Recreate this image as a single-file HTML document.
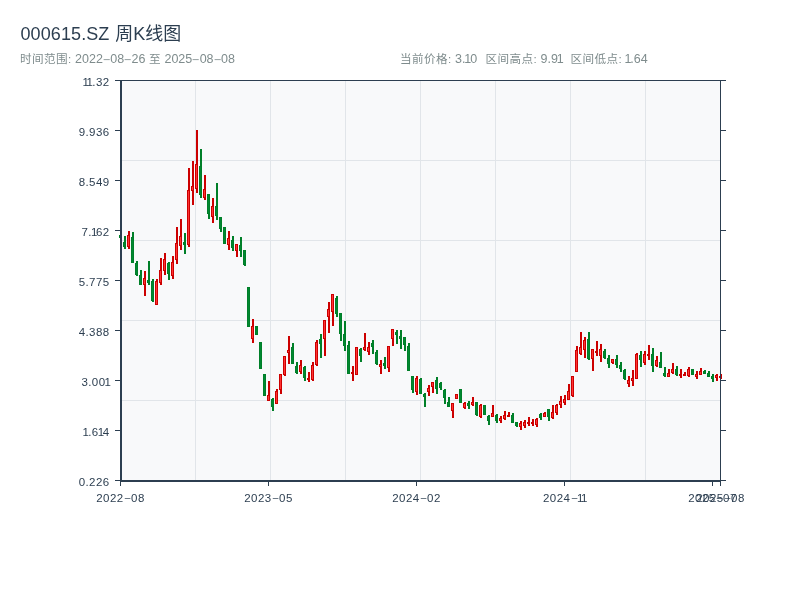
<!DOCTYPE html>
<html lang="zh-CN">
<head>
<meta charset="utf-8">
<title>000615.SZ 周K线图</title>
<style>
html,body{margin:0;padding:0;background:#fff;}
body{width:800px;height:600px;overflow:hidden;position:relative;font-family:"Liberation Sans","Noto Sans CJK SC",sans-serif;}
.t{position:absolute;white-space:nowrap;margin:0;}
.title{left:20.5px;top:22px;font-size:18px;line-height:24px;color:#2c3e50;letter-spacing:0.1px;font-weight:normal;}
.title .c{letter-spacing:0;margin-left:0.7px;font-weight:400;}
.sub{top:51px;font-size:12.5px;line-height:16px;color:#7f8c8d;letter-spacing:0;}
.sub .n{letter-spacing:0;}
.sub .c{letter-spacing:0.4px;font-size:11.6px;font-weight:400;}
.d{display:inline-block;width:7.4px;text-align:center;transform:scaleX(2.0);letter-spacing:0;position:relative;top:0;opacity:.8;}
.yl{right:690.5px;font-size:11.5px;line-height:14px;color:#2c3e50;letter-spacing:0.4px;}
.xl{top:490.5px;width:80px;text-align:center;font-size:11.5px;line-height:14px;color:#2c3e50;letter-spacing:0.48px;}
.xl .d{top:-0.8px;}
.o{margin-left:-0.9px;letter-spacing:-1.45px;}
.o.p{letter-spacing:-0.7px;}
.sub .o{margin-left:-1.2px;letter-spacing:-1.1px;}
svg{position:absolute;left:0;top:0;}
</style>
</head>
<body>
<h1 class="t title">000615.SZ<span class="c"> 周K线图</span></h1>
<div class="t sub" style="left:20px"><span class="c">时间范围:</span> 2022<span class="d">-</span>08<span class="d">-</span>26 <span class="c">至</span> 2025<span class="d">-</span>08<span class="d">-</span>08</div>
<div class="t sub" style="left:400px"><span class="c">当前价格:</span> <span class="n">3.<span class="o">1</span>0</span></div>
<div class="t sub" style="left:485.5px"><span class="c">区间高点:</span> <span class="n">9.9<span class="o">1</span></span></div>
<div class="t sub" style="left:570.5px"><span class="c">区间低点:</span> <span class="n"><span class="o">1</span>.64</span></div>
<svg width="800" height="600" viewBox="0 0 800 600">
<rect x="121" y="81" width="599" height="400" fill="#f8f9fa"/>
<g stroke="#e1e5e9" stroke-width="1" shape-rendering="crispEdges">
<line x1="195.5" y1="81" x2="195.5" y2="480"/>
<line x1="270.5" y1="81" x2="270.5" y2="480"/>
<line x1="345.5" y1="81" x2="345.5" y2="480"/>
<line x1="420.5" y1="81" x2="420.5" y2="480"/>
<line x1="495.5" y1="81" x2="495.5" y2="480"/>
<line x1="570.5" y1="81" x2="570.5" y2="480"/>
<line x1="645.5" y1="81" x2="645.5" y2="480"/>
<line x1="122" y1="160.5" x2="720" y2="160.5"/>
<line x1="122" y1="240.5" x2="720" y2="240.5"/>
<line x1="122" y1="320.5" x2="720" y2="320.5"/>
<line x1="122" y1="400.5" x2="720" y2="400.5"/>
</g>
<g shape-rendering="crispEdges">
<rect x="120" y="233" width="2" height="7" fill="#007f28"/>
<rect x="119" y="235" width="3" height="3" fill="#007f28"/>
<rect x="120" y="236" width="1" height="1" fill="#008832"/>
<rect x="124" y="236" width="2" height="13" fill="#007f28"/>
<rect x="123" y="242" width="3" height="5" fill="#007f28"/>
<rect x="124" y="243" width="1" height="3" fill="#008832"/>
<rect x="128" y="231" width="2" height="18" fill="#cc0000"/>
<rect x="127" y="235" width="3" height="12" fill="#cc0000"/>
<rect x="128" y="236" width="1" height="10" fill="#ff3333"/>
<rect x="132" y="232" width="2" height="31" fill="#007f28"/>
<rect x="131" y="237" width="3" height="26" fill="#007f28"/>
<rect x="132" y="238" width="1" height="24" fill="#008832"/>
<rect x="136" y="261" width="2" height="15" fill="#007f28"/>
<rect x="135" y="263" width="3" height="12" fill="#007f28"/>
<rect x="136" y="264" width="1" height="10" fill="#008832"/>
<rect x="140" y="270" width="2" height="15" fill="#007f28"/>
<rect x="139" y="275" width="3" height="10" fill="#007f28"/>
<rect x="140" y="276" width="1" height="8" fill="#008832"/>
<rect x="144" y="271" width="2" height="25" fill="#cc0000"/>
<rect x="143" y="278" width="3" height="7" fill="#cc0000"/>
<rect x="144" y="279" width="1" height="5" fill="#ff3333"/>
<rect x="148" y="261" width="2" height="24" fill="#007f28"/>
<rect x="147" y="280" width="3" height="3" fill="#007f28"/>
<rect x="148" y="281" width="1" height="1" fill="#008832"/>
<rect x="152" y="279" width="2" height="23" fill="#007f28"/>
<rect x="151" y="281" width="3" height="20" fill="#007f28"/>
<rect x="152" y="282" width="1" height="18" fill="#008832"/>
<rect x="156" y="279" width="2" height="26" fill="#cc0000"/>
<rect x="155" y="281" width="3" height="24" fill="#cc0000"/>
<rect x="156" y="282" width="1" height="22" fill="#ff3333"/>
<rect x="160" y="258" width="2" height="27" fill="#cc0000"/>
<rect x="159" y="270" width="3" height="13" fill="#cc0000"/>
<rect x="160" y="271" width="1" height="11" fill="#ff3333"/>
<rect x="164" y="253" width="2" height="22" fill="#cc0000"/>
<rect x="163" y="259" width="3" height="12" fill="#cc0000"/>
<rect x="164" y="260" width="1" height="10" fill="#ff3333"/>
<rect x="168" y="262" width="2" height="18" fill="#007f28"/>
<rect x="167" y="263" width="3" height="11" fill="#007f28"/>
<rect x="168" y="264" width="1" height="9" fill="#008832"/>
<rect x="172" y="256" width="2" height="23" fill="#cc0000"/>
<rect x="171" y="262" width="3" height="14" fill="#cc0000"/>
<rect x="172" y="263" width="1" height="12" fill="#ff3333"/>
<rect x="176" y="227" width="2" height="37" fill="#cc0000"/>
<rect x="175" y="243" width="3" height="17" fill="#cc0000"/>
<rect x="176" y="244" width="1" height="15" fill="#ff3333"/>
<rect x="180" y="219" width="2" height="31" fill="#cc0000"/>
<rect x="179" y="236" width="3" height="10" fill="#cc0000"/>
<rect x="180" y="237" width="1" height="8" fill="#ff3333"/>
<rect x="184" y="233" width="2" height="21" fill="#007f28"/>
<rect x="183" y="242" width="3" height="3" fill="#007f28"/>
<rect x="184" y="243" width="1" height="1" fill="#008832"/>
<rect x="188" y="168" width="2" height="79" fill="#cc0000"/>
<rect x="187" y="190" width="3" height="55" fill="#cc0000"/>
<rect x="188" y="191" width="1" height="53" fill="#ff3333"/>
<rect x="192" y="161" width="2" height="44" fill="#cc0000"/>
<rect x="191" y="186" width="3" height="5" fill="#cc0000"/>
<rect x="192" y="187" width="1" height="3" fill="#ff3333"/>
<rect x="196" y="130" width="2" height="63" fill="#cc0000"/>
<rect x="195" y="164" width="3" height="25" fill="#cc0000"/>
<rect x="196" y="165" width="1" height="23" fill="#ff3333"/>
<rect x="200" y="149" width="2" height="49" fill="#007f28"/>
<rect x="199" y="166" width="3" height="29" fill="#007f28"/>
<rect x="200" y="167" width="1" height="27" fill="#008832"/>
<rect x="204" y="175" width="2" height="25" fill="#cc0000"/>
<rect x="203" y="189" width="3" height="9" fill="#cc0000"/>
<rect x="204" y="190" width="1" height="7" fill="#ff3333"/>
<rect x="208" y="194" width="2" height="25" fill="#007f28"/>
<rect x="207" y="194" width="3" height="20" fill="#007f28"/>
<rect x="208" y="195" width="1" height="18" fill="#008832"/>
<rect x="212" y="198" width="2" height="25" fill="#cc0000"/>
<rect x="211" y="206" width="3" height="11" fill="#cc0000"/>
<rect x="212" y="207" width="1" height="9" fill="#ff3333"/>
<rect x="216" y="183" width="2" height="37" fill="#007f28"/>
<rect x="215" y="206" width="3" height="10" fill="#007f28"/>
<rect x="216" y="207" width="1" height="8" fill="#008832"/>
<rect x="220" y="217" width="2" height="15" fill="#007f28"/>
<rect x="219" y="217" width="3" height="12" fill="#007f28"/>
<rect x="220" y="218" width="1" height="10" fill="#008832"/>
<rect x="224" y="227" width="2" height="17" fill="#007f28"/>
<rect x="223" y="227" width="3" height="17" fill="#007f28"/>
<rect x="224" y="228" width="1" height="15" fill="#008832"/>
<rect x="228" y="231" width="2" height="19" fill="#cc0000"/>
<rect x="227" y="238" width="3" height="7" fill="#cc0000"/>
<rect x="228" y="239" width="1" height="5" fill="#ff3333"/>
<rect x="232" y="236" width="2" height="15" fill="#007f28"/>
<rect x="231" y="240" width="3" height="8" fill="#007f28"/>
<rect x="232" y="241" width="1" height="6" fill="#008832"/>
<rect x="236" y="244" width="2" height="13" fill="#cc0000"/>
<rect x="235" y="244" width="3" height="7" fill="#cc0000"/>
<rect x="236" y="245" width="1" height="5" fill="#ff3333"/>
<rect x="240" y="237" width="2" height="20" fill="#007f28"/>
<rect x="239" y="245" width="3" height="6" fill="#007f28"/>
<rect x="240" y="246" width="1" height="4" fill="#008832"/>
<rect x="244" y="250" width="2" height="16" fill="#007f28"/>
<rect x="243" y="250" width="3" height="15" fill="#007f28"/>
<rect x="244" y="251" width="1" height="13" fill="#008832"/>
<rect x="248" y="287" width="2" height="40" fill="#007f28"/>
<rect x="247" y="287" width="3" height="40" fill="#007f28"/>
<rect x="248" y="288" width="1" height="38" fill="#008832"/>
<rect x="252" y="319" width="2" height="24" fill="#cc0000"/>
<rect x="251" y="326" width="3" height="13" fill="#cc0000"/>
<rect x="252" y="327" width="1" height="11" fill="#ff3333"/>
<rect x="256" y="326" width="2" height="9" fill="#007f28"/>
<rect x="255" y="326" width="3" height="9" fill="#007f28"/>
<rect x="256" y="327" width="1" height="7" fill="#008832"/>
<rect x="260" y="342" width="2" height="27" fill="#007f28"/>
<rect x="259" y="342" width="3" height="27" fill="#007f28"/>
<rect x="260" y="343" width="1" height="25" fill="#008832"/>
<rect x="264" y="374" width="2" height="22" fill="#007f28"/>
<rect x="263" y="374" width="3" height="22" fill="#007f28"/>
<rect x="264" y="375" width="1" height="20" fill="#008832"/>
<rect x="268" y="381" width="2" height="20" fill="#cc0000"/>
<rect x="267" y="395" width="3" height="6" fill="#cc0000"/>
<rect x="268" y="396" width="1" height="4" fill="#ff3333"/>
<rect x="272" y="398" width="2" height="13" fill="#007f28"/>
<rect x="271" y="399" width="3" height="8" fill="#007f28"/>
<rect x="272" y="400" width="1" height="6" fill="#008832"/>
<rect x="276" y="389" width="2" height="15" fill="#cc0000"/>
<rect x="275" y="391" width="3" height="13" fill="#cc0000"/>
<rect x="276" y="392" width="1" height="11" fill="#ff3333"/>
<rect x="280" y="374" width="2" height="20" fill="#cc0000"/>
<rect x="279" y="374" width="3" height="16" fill="#cc0000"/>
<rect x="280" y="375" width="1" height="14" fill="#ff3333"/>
<rect x="284" y="356" width="2" height="20" fill="#cc0000"/>
<rect x="283" y="356" width="3" height="19" fill="#cc0000"/>
<rect x="284" y="357" width="1" height="17" fill="#ff3333"/>
<rect x="288" y="336" width="2" height="28" fill="#cc0000"/>
<rect x="287" y="350" width="3" height="3" fill="#cc0000"/>
<rect x="288" y="351" width="1" height="1" fill="#ff3333"/>
<rect x="292" y="343" width="2" height="21" fill="#007f28"/>
<rect x="291" y="347" width="3" height="17" fill="#007f28"/>
<rect x="292" y="348" width="1" height="15" fill="#008832"/>
<rect x="296" y="362" width="2" height="12" fill="#007f28"/>
<rect x="295" y="366" width="3" height="7" fill="#007f28"/>
<rect x="296" y="367" width="1" height="5" fill="#008832"/>
<rect x="300" y="360" width="2" height="14" fill="#cc0000"/>
<rect x="299" y="365" width="3" height="7" fill="#cc0000"/>
<rect x="300" y="366" width="1" height="5" fill="#ff3333"/>
<rect x="304" y="366" width="2" height="15" fill="#007f28"/>
<rect x="303" y="367" width="3" height="11" fill="#007f28"/>
<rect x="304" y="368" width="1" height="9" fill="#008832"/>
<rect x="308" y="372" width="2" height="10" fill="#cc0000"/>
<rect x="307" y="378" width="3" height="2" fill="#cc0000"/>
<rect x="312" y="362" width="2" height="19" fill="#cc0000"/>
<rect x="311" y="365" width="3" height="15" fill="#cc0000"/>
<rect x="312" y="366" width="1" height="13" fill="#ff3333"/>
<rect x="316" y="340" width="2" height="26" fill="#cc0000"/>
<rect x="315" y="342" width="3" height="23" fill="#cc0000"/>
<rect x="316" y="343" width="1" height="21" fill="#ff3333"/>
<rect x="320" y="334" width="2" height="24" fill="#007f28"/>
<rect x="319" y="339" width="3" height="5" fill="#007f28"/>
<rect x="320" y="340" width="1" height="3" fill="#008832"/>
<rect x="324" y="320" width="2" height="36" fill="#cc0000"/>
<rect x="323" y="320" width="3" height="19" fill="#cc0000"/>
<rect x="324" y="321" width="1" height="17" fill="#ff3333"/>
<rect x="328" y="302" width="2" height="31" fill="#cc0000"/>
<rect x="327" y="309" width="3" height="8" fill="#cc0000"/>
<rect x="328" y="310" width="1" height="6" fill="#ff3333"/>
<rect x="332" y="294" width="2" height="32" fill="#cc0000"/>
<rect x="331" y="294" width="3" height="18" fill="#cc0000"/>
<rect x="332" y="295" width="1" height="16" fill="#ff3333"/>
<rect x="336" y="296" width="2" height="21" fill="#007f28"/>
<rect x="335" y="298" width="3" height="16" fill="#007f28"/>
<rect x="336" y="299" width="1" height="14" fill="#008832"/>
<rect x="340" y="313" width="2" height="28" fill="#007f28"/>
<rect x="339" y="313" width="3" height="21" fill="#007f28"/>
<rect x="340" y="314" width="1" height="19" fill="#008832"/>
<rect x="344" y="321" width="2" height="30" fill="#007f28"/>
<rect x="343" y="334" width="3" height="12" fill="#007f28"/>
<rect x="344" y="335" width="1" height="10" fill="#008832"/>
<rect x="348" y="341" width="2" height="33" fill="#007f28"/>
<rect x="347" y="345" width="3" height="29" fill="#007f28"/>
<rect x="348" y="346" width="1" height="27" fill="#008832"/>
<rect x="352" y="366" width="2" height="15" fill="#cc0000"/>
<rect x="351" y="372" width="3" height="2" fill="#cc0000"/>
<rect x="356" y="347" width="2" height="28" fill="#cc0000"/>
<rect x="355" y="347" width="3" height="28" fill="#cc0000"/>
<rect x="356" y="348" width="1" height="26" fill="#ff3333"/>
<rect x="360" y="348" width="2" height="14" fill="#007f28"/>
<rect x="359" y="349" width="3" height="7" fill="#007f28"/>
<rect x="360" y="350" width="1" height="5" fill="#008832"/>
<rect x="364" y="333" width="2" height="18" fill="#cc0000"/>
<rect x="363" y="347" width="3" height="3" fill="#cc0000"/>
<rect x="364" y="348" width="1" height="1" fill="#ff3333"/>
<rect x="368" y="342" width="2" height="13" fill="#cc0000"/>
<rect x="367" y="347" width="3" height="5" fill="#cc0000"/>
<rect x="368" y="348" width="1" height="3" fill="#ff3333"/>
<rect x="372" y="340" width="2" height="14" fill="#007f28"/>
<rect x="371" y="343" width="3" height="4" fill="#007f28"/>
<rect x="372" y="344" width="1" height="2" fill="#008832"/>
<rect x="376" y="350" width="2" height="15" fill="#007f28"/>
<rect x="375" y="352" width="3" height="12" fill="#007f28"/>
<rect x="376" y="353" width="1" height="10" fill="#008832"/>
<rect x="380" y="360" width="2" height="14" fill="#cc0000"/>
<rect x="379" y="364" width="3" height="3" fill="#cc0000"/>
<rect x="380" y="365" width="1" height="1" fill="#ff3333"/>
<rect x="384" y="357" width="2" height="12" fill="#007f28"/>
<rect x="383" y="363" width="3" height="3" fill="#007f28"/>
<rect x="384" y="364" width="1" height="1" fill="#008832"/>
<rect x="388" y="346" width="2" height="26" fill="#cc0000"/>
<rect x="387" y="346" width="3" height="22" fill="#cc0000"/>
<rect x="388" y="347" width="1" height="20" fill="#ff3333"/>
<rect x="392" y="329" width="2" height="17" fill="#cc0000"/>
<rect x="391" y="329" width="3" height="10" fill="#cc0000"/>
<rect x="392" y="330" width="1" height="8" fill="#ff3333"/>
<rect x="396" y="330" width="2" height="14" fill="#007f28"/>
<rect x="395" y="332" width="3" height="3" fill="#007f28"/>
<rect x="396" y="333" width="1" height="1" fill="#008832"/>
<rect x="400" y="330" width="2" height="19" fill="#007f28"/>
<rect x="399" y="336" width="3" height="3" fill="#007f28"/>
<rect x="400" y="337" width="1" height="1" fill="#008832"/>
<rect x="404" y="337" width="2" height="14" fill="#007f28"/>
<rect x="403" y="337" width="3" height="8" fill="#007f28"/>
<rect x="404" y="338" width="1" height="6" fill="#008832"/>
<rect x="408" y="343" width="2" height="28" fill="#007f28"/>
<rect x="407" y="346" width="3" height="25" fill="#007f28"/>
<rect x="408" y="347" width="1" height="23" fill="#008832"/>
<rect x="412" y="376" width="2" height="17" fill="#007f28"/>
<rect x="411" y="376" width="3" height="14" fill="#007f28"/>
<rect x="412" y="377" width="1" height="12" fill="#008832"/>
<rect x="416" y="376" width="2" height="19" fill="#cc0000"/>
<rect x="415" y="378" width="3" height="14" fill="#cc0000"/>
<rect x="416" y="379" width="1" height="12" fill="#ff3333"/>
<rect x="420" y="378" width="2" height="16" fill="#007f28"/>
<rect x="419" y="379" width="3" height="15" fill="#007f28"/>
<rect x="420" y="380" width="1" height="13" fill="#008832"/>
<rect x="424" y="393" width="2" height="14" fill="#007f28"/>
<rect x="423" y="394" width="3" height="3" fill="#007f28"/>
<rect x="424" y="395" width="1" height="1" fill="#008832"/>
<rect x="428" y="385" width="2" height="11" fill="#cc0000"/>
<rect x="427" y="388" width="3" height="4" fill="#cc0000"/>
<rect x="428" y="389" width="1" height="2" fill="#ff3333"/>
<rect x="432" y="382" width="2" height="11" fill="#cc0000"/>
<rect x="431" y="382" width="3" height="5" fill="#cc0000"/>
<rect x="432" y="383" width="1" height="3" fill="#ff3333"/>
<rect x="436" y="377" width="2" height="17" fill="#007f28"/>
<rect x="435" y="380" width="3" height="9" fill="#007f28"/>
<rect x="436" y="381" width="1" height="7" fill="#008832"/>
<rect x="440" y="382" width="2" height="8" fill="#007f28"/>
<rect x="439" y="383" width="3" height="5" fill="#007f28"/>
<rect x="440" y="384" width="1" height="3" fill="#008832"/>
<rect x="444" y="389" width="2" height="15" fill="#007f28"/>
<rect x="443" y="390" width="3" height="8" fill="#007f28"/>
<rect x="444" y="391" width="1" height="6" fill="#008832"/>
<rect x="448" y="397" width="2" height="10" fill="#007f28"/>
<rect x="447" y="402" width="3" height="5" fill="#007f28"/>
<rect x="448" y="403" width="1" height="3" fill="#008832"/>
<rect x="452" y="403" width="2" height="15" fill="#cc0000"/>
<rect x="451" y="403" width="3" height="8" fill="#cc0000"/>
<rect x="452" y="404" width="1" height="6" fill="#ff3333"/>
<rect x="456" y="394" width="2" height="5" fill="#cc0000"/>
<rect x="455" y="394" width="3" height="5" fill="#cc0000"/>
<rect x="456" y="395" width="1" height="3" fill="#ff3333"/>
<rect x="460" y="389" width="2" height="14" fill="#007f28"/>
<rect x="459" y="389" width="3" height="14" fill="#007f28"/>
<rect x="460" y="390" width="1" height="12" fill="#008832"/>
<rect x="464" y="402" width="2" height="7" fill="#cc0000"/>
<rect x="463" y="403" width="3" height="5" fill="#cc0000"/>
<rect x="464" y="404" width="1" height="3" fill="#ff3333"/>
<rect x="468" y="401" width="2" height="8" fill="#007f28"/>
<rect x="467" y="403" width="3" height="3" fill="#007f28"/>
<rect x="468" y="404" width="1" height="1" fill="#008832"/>
<rect x="472" y="397" width="2" height="9" fill="#cc0000"/>
<rect x="471" y="402" width="3" height="3" fill="#cc0000"/>
<rect x="472" y="403" width="1" height="1" fill="#ff3333"/>
<rect x="476" y="402" width="2" height="14" fill="#007f28"/>
<rect x="475" y="402" width="3" height="13" fill="#007f28"/>
<rect x="476" y="403" width="1" height="11" fill="#008832"/>
<rect x="480" y="404" width="2" height="14" fill="#cc0000"/>
<rect x="479" y="405" width="3" height="12" fill="#cc0000"/>
<rect x="480" y="406" width="1" height="10" fill="#ff3333"/>
<rect x="484" y="405" width="2" height="10" fill="#007f28"/>
<rect x="483" y="405" width="3" height="10" fill="#007f28"/>
<rect x="484" y="406" width="1" height="8" fill="#008832"/>
<rect x="488" y="415" width="2" height="10" fill="#007f28"/>
<rect x="487" y="416" width="3" height="5" fill="#007f28"/>
<rect x="488" y="417" width="1" height="3" fill="#008832"/>
<rect x="492" y="405" width="2" height="12" fill="#cc0000"/>
<rect x="491" y="413" width="3" height="4" fill="#cc0000"/>
<rect x="492" y="414" width="1" height="2" fill="#ff3333"/>
<rect x="496" y="414" width="2" height="9" fill="#007f28"/>
<rect x="495" y="415" width="3" height="6" fill="#007f28"/>
<rect x="496" y="416" width="1" height="4" fill="#008832"/>
<rect x="500" y="416" width="2" height="7" fill="#cc0000"/>
<rect x="499" y="418" width="3" height="3" fill="#cc0000"/>
<rect x="500" y="419" width="1" height="1" fill="#ff3333"/>
<rect x="504" y="411" width="2" height="9" fill="#cc0000"/>
<rect x="503" y="415" width="3" height="4" fill="#cc0000"/>
<rect x="504" y="416" width="1" height="2" fill="#ff3333"/>
<rect x="508" y="412" width="2" height="5" fill="#cc0000"/>
<rect x="507" y="415" width="3" height="2" fill="#cc0000"/>
<rect x="512" y="413" width="2" height="10" fill="#007f28"/>
<rect x="511" y="415" width="3" height="8" fill="#007f28"/>
<rect x="512" y="416" width="1" height="6" fill="#008832"/>
<rect x="516" y="422" width="2" height="5" fill="#007f28"/>
<rect x="515" y="422" width="3" height="4" fill="#007f28"/>
<rect x="516" y="423" width="1" height="2" fill="#008832"/>
<rect x="520" y="421" width="2" height="9" fill="#cc0000"/>
<rect x="519" y="423" width="3" height="4" fill="#cc0000"/>
<rect x="520" y="424" width="1" height="2" fill="#ff3333"/>
<rect x="524" y="420" width="2" height="8" fill="#cc0000"/>
<rect x="523" y="422" width="3" height="4" fill="#cc0000"/>
<rect x="524" y="423" width="1" height="2" fill="#ff3333"/>
<rect x="528" y="417" width="2" height="9" fill="#cc0000"/>
<rect x="527" y="422" width="3" height="2" fill="#cc0000"/>
<rect x="532" y="419" width="2" height="7" fill="#cc0000"/>
<rect x="531" y="422" width="3" height="2" fill="#cc0000"/>
<rect x="536" y="418" width="2" height="9" fill="#cc0000"/>
<rect x="535" y="419" width="3" height="6" fill="#cc0000"/>
<rect x="536" y="420" width="1" height="4" fill="#ff3333"/>
<rect x="540" y="413" width="2" height="7" fill="#007f28"/>
<rect x="539" y="414" width="3" height="4" fill="#007f28"/>
<rect x="540" y="415" width="1" height="2" fill="#008832"/>
<rect x="544" y="412" width="2" height="5" fill="#cc0000"/>
<rect x="543" y="413" width="3" height="4" fill="#cc0000"/>
<rect x="544" y="414" width="1" height="2" fill="#ff3333"/>
<rect x="548" y="409" width="2" height="12" fill="#007f28"/>
<rect x="547" y="409" width="3" height="8" fill="#007f28"/>
<rect x="548" y="410" width="1" height="6" fill="#008832"/>
<rect x="552" y="405" width="2" height="14" fill="#cc0000"/>
<rect x="551" y="412" width="3" height="6" fill="#cc0000"/>
<rect x="552" y="413" width="1" height="4" fill="#ff3333"/>
<rect x="556" y="404" width="2" height="11" fill="#cc0000"/>
<rect x="555" y="405" width="3" height="8" fill="#cc0000"/>
<rect x="556" y="406" width="1" height="6" fill="#ff3333"/>
<rect x="560" y="396" width="2" height="12" fill="#cc0000"/>
<rect x="559" y="401" width="3" height="4" fill="#cc0000"/>
<rect x="560" y="402" width="1" height="2" fill="#ff3333"/>
<rect x="564" y="395" width="2" height="10" fill="#cc0000"/>
<rect x="563" y="399" width="3" height="4" fill="#cc0000"/>
<rect x="564" y="400" width="1" height="2" fill="#ff3333"/>
<rect x="568" y="384" width="2" height="16" fill="#cc0000"/>
<rect x="567" y="391" width="3" height="9" fill="#cc0000"/>
<rect x="568" y="392" width="1" height="7" fill="#ff3333"/>
<rect x="572" y="376" width="2" height="21" fill="#cc0000"/>
<rect x="571" y="376" width="3" height="20" fill="#cc0000"/>
<rect x="572" y="377" width="1" height="18" fill="#ff3333"/>
<rect x="576" y="346" width="2" height="26" fill="#cc0000"/>
<rect x="575" y="350" width="3" height="22" fill="#cc0000"/>
<rect x="576" y="351" width="1" height="20" fill="#ff3333"/>
<rect x="580" y="332" width="2" height="23" fill="#cc0000"/>
<rect x="579" y="347" width="3" height="7" fill="#cc0000"/>
<rect x="580" y="348" width="1" height="5" fill="#ff3333"/>
<rect x="584" y="337" width="2" height="21" fill="#cc0000"/>
<rect x="583" y="340" width="3" height="10" fill="#cc0000"/>
<rect x="584" y="341" width="1" height="8" fill="#ff3333"/>
<rect x="588" y="332" width="2" height="28" fill="#007f28"/>
<rect x="587" y="339" width="3" height="20" fill="#007f28"/>
<rect x="588" y="340" width="1" height="18" fill="#008832"/>
<rect x="592" y="349" width="2" height="22" fill="#cc0000"/>
<rect x="591" y="349" width="3" height="10" fill="#cc0000"/>
<rect x="592" y="350" width="1" height="8" fill="#ff3333"/>
<rect x="596" y="341" width="2" height="15" fill="#cc0000"/>
<rect x="595" y="351" width="3" height="2" fill="#cc0000"/>
<rect x="600" y="344" width="2" height="18" fill="#cc0000"/>
<rect x="599" y="349" width="3" height="7" fill="#cc0000"/>
<rect x="600" y="350" width="1" height="5" fill="#ff3333"/>
<rect x="604" y="349" width="2" height="10" fill="#007f28"/>
<rect x="603" y="351" width="3" height="7" fill="#007f28"/>
<rect x="604" y="352" width="1" height="5" fill="#008832"/>
<rect x="608" y="355" width="2" height="13" fill="#007f28"/>
<rect x="607" y="358" width="3" height="6" fill="#007f28"/>
<rect x="608" y="359" width="1" height="4" fill="#008832"/>
<rect x="612" y="359" width="2" height="5" fill="#cc0000"/>
<rect x="611" y="359" width="3" height="4" fill="#cc0000"/>
<rect x="612" y="360" width="1" height="2" fill="#ff3333"/>
<rect x="616" y="355" width="2" height="13" fill="#007f28"/>
<rect x="615" y="359" width="3" height="6" fill="#007f28"/>
<rect x="616" y="360" width="1" height="4" fill="#008832"/>
<rect x="620" y="362" width="2" height="10" fill="#007f28"/>
<rect x="619" y="365" width="3" height="4" fill="#007f28"/>
<rect x="620" y="366" width="1" height="2" fill="#008832"/>
<rect x="624" y="369" width="2" height="11" fill="#007f28"/>
<rect x="623" y="370" width="3" height="9" fill="#007f28"/>
<rect x="624" y="371" width="1" height="7" fill="#008832"/>
<rect x="628" y="376" width="2" height="11" fill="#cc0000"/>
<rect x="627" y="380" width="3" height="4" fill="#cc0000"/>
<rect x="628" y="381" width="1" height="2" fill="#ff3333"/>
<rect x="632" y="370" width="2" height="16" fill="#cc0000"/>
<rect x="631" y="378" width="3" height="3" fill="#cc0000"/>
<rect x="632" y="379" width="1" height="1" fill="#ff3333"/>
<rect x="636" y="353" width="2" height="26" fill="#cc0000"/>
<rect x="635" y="354" width="3" height="25" fill="#cc0000"/>
<rect x="636" y="355" width="1" height="23" fill="#ff3333"/>
<rect x="640" y="351" width="2" height="16" fill="#007f28"/>
<rect x="639" y="355" width="3" height="5" fill="#007f28"/>
<rect x="640" y="356" width="1" height="3" fill="#008832"/>
<rect x="644" y="351" width="2" height="14" fill="#cc0000"/>
<rect x="643" y="354" width="3" height="9" fill="#cc0000"/>
<rect x="644" y="355" width="1" height="7" fill="#ff3333"/>
<rect x="648" y="345" width="2" height="15" fill="#cc0000"/>
<rect x="647" y="354" width="3" height="2" fill="#cc0000"/>
<rect x="652" y="348" width="2" height="24" fill="#007f28"/>
<rect x="651" y="354" width="3" height="12" fill="#007f28"/>
<rect x="652" y="355" width="1" height="10" fill="#008832"/>
<rect x="656" y="356" width="2" height="11" fill="#cc0000"/>
<rect x="655" y="360" width="3" height="6" fill="#cc0000"/>
<rect x="656" y="361" width="1" height="4" fill="#ff3333"/>
<rect x="660" y="352" width="2" height="16" fill="#007f28"/>
<rect x="659" y="362" width="3" height="6" fill="#007f28"/>
<rect x="660" y="363" width="1" height="4" fill="#008832"/>
<rect x="664" y="367" width="2" height="10" fill="#007f28"/>
<rect x="663" y="373" width="3" height="3" fill="#007f28"/>
<rect x="664" y="374" width="1" height="1" fill="#008832"/>
<rect x="668" y="369" width="2" height="8" fill="#cc0000"/>
<rect x="667" y="373" width="3" height="4" fill="#cc0000"/>
<rect x="668" y="374" width="1" height="2" fill="#ff3333"/>
<rect x="672" y="363" width="2" height="11" fill="#cc0000"/>
<rect x="671" y="369" width="3" height="4" fill="#cc0000"/>
<rect x="672" y="370" width="1" height="2" fill="#ff3333"/>
<rect x="676" y="366" width="2" height="10" fill="#007f28"/>
<rect x="675" y="369" width="3" height="6" fill="#007f28"/>
<rect x="676" y="370" width="1" height="4" fill="#008832"/>
<rect x="680" y="369" width="2" height="9" fill="#cc0000"/>
<rect x="679" y="374" width="3" height="2" fill="#cc0000"/>
<rect x="684" y="372" width="2" height="4" fill="#cc0000"/>
<rect x="683" y="374" width="3" height="2" fill="#cc0000"/>
<rect x="688" y="367" width="2" height="10" fill="#cc0000"/>
<rect x="687" y="369" width="3" height="7" fill="#cc0000"/>
<rect x="688" y="370" width="1" height="5" fill="#ff3333"/>
<rect x="692" y="369" width="2" height="6" fill="#007f28"/>
<rect x="691" y="369" width="3" height="6" fill="#007f28"/>
<rect x="692" y="370" width="1" height="4" fill="#008832"/>
<rect x="696" y="371" width="2" height="8" fill="#cc0000"/>
<rect x="695" y="374" width="3" height="3" fill="#cc0000"/>
<rect x="696" y="375" width="1" height="1" fill="#ff3333"/>
<rect x="700" y="368" width="2" height="7" fill="#cc0000"/>
<rect x="699" y="371" width="3" height="4" fill="#cc0000"/>
<rect x="700" y="372" width="1" height="2" fill="#ff3333"/>
<rect x="704" y="370" width="2" height="4" fill="#007f28"/>
<rect x="703" y="371" width="3" height="3" fill="#007f28"/>
<rect x="704" y="372" width="1" height="1" fill="#008832"/>
<rect x="708" y="371" width="2" height="6" fill="#007f28"/>
<rect x="707" y="373" width="3" height="4" fill="#007f28"/>
<rect x="708" y="374" width="1" height="2" fill="#008832"/>
<rect x="712" y="374" width="2" height="8" fill="#007f28"/>
<rect x="711" y="376" width="3" height="3" fill="#007f28"/>
<rect x="712" y="377" width="1" height="1" fill="#008832"/>
<rect x="716" y="374" width="2" height="7" fill="#cc0000"/>
<rect x="715" y="375" width="3" height="3" fill="#cc0000"/>
<rect x="716" y="376" width="1" height="1" fill="#ff3333"/>
<rect x="720" y="374" width="2" height="5" fill="#cc0000"/>
<rect x="719" y="376" width="3" height="2" fill="#cc0000"/>
</g>
<g stroke="#2c3e50" shape-rendering="crispEdges">
<line x1="120" y1="80.5" x2="721" y2="80.5" stroke-width="1"/>
<line x1="720.5" y1="80" x2="720.5" y2="482" stroke-width="1"/>
<line x1="121" y1="80" x2="121" y2="482" stroke-width="2"/>
<line x1="120" y1="481" x2="721" y2="481" stroke-width="2"/>
<line x1="115" y1="80.5" x2="120" y2="80.5" stroke-width="1"/>
<line x1="721" y1="80.5" x2="726" y2="80.5" stroke-width="1"/>
<line x1="115" y1="130.5" x2="120" y2="130.5" stroke-width="1"/>
<line x1="721" y1="130.5" x2="726" y2="130.5" stroke-width="1"/>
<line x1="115" y1="180.5" x2="120" y2="180.5" stroke-width="1"/>
<line x1="721" y1="180.5" x2="726" y2="180.5" stroke-width="1"/>
<line x1="115" y1="230.5" x2="120" y2="230.5" stroke-width="1"/>
<line x1="721" y1="230.5" x2="726" y2="230.5" stroke-width="1"/>
<line x1="115" y1="280.5" x2="120" y2="280.5" stroke-width="1"/>
<line x1="721" y1="280.5" x2="726" y2="280.5" stroke-width="1"/>
<line x1="115" y1="330.5" x2="120" y2="330.5" stroke-width="1"/>
<line x1="721" y1="330.5" x2="726" y2="330.5" stroke-width="1"/>
<line x1="115" y1="380.5" x2="120" y2="380.5" stroke-width="1"/>
<line x1="721" y1="380.5" x2="726" y2="380.5" stroke-width="1"/>
<line x1="115" y1="430.5" x2="120" y2="430.5" stroke-width="1"/>
<line x1="721" y1="430.5" x2="726" y2="430.5" stroke-width="1"/>
<line x1="115" y1="480.5" x2="120" y2="480.5" stroke-width="1"/>
<line x1="721" y1="480.5" x2="726" y2="480.5" stroke-width="1"/>
<line x1="120.5" y1="482" x2="120.5" y2="486" stroke-width="1"/>
<line x1="268.5" y1="482" x2="268.5" y2="486" stroke-width="1"/>
<line x1="416.5" y1="482" x2="416.5" y2="486" stroke-width="1"/>
<line x1="564.5" y1="482" x2="564.5" y2="486" stroke-width="1"/>
<line x1="712.5" y1="482" x2="712.5" y2="486" stroke-width="1"/>
<line x1="720.5" y1="482" x2="720.5" y2="486" stroke-width="1"/>
</g>
</svg>
<div class="t yl" style="top:74.5px"><span class="o">1</span><span class="o p">1</span>.32</div>
<div class="t yl" style="top:124.5px">9.936</div>
<div class="t yl" style="top:174.5px">8.549</div>
<div class="t yl" style="top:224.5px">7.<span class="o">1</span>62</div>
<div class="t yl" style="top:274.5px">5.775</div>
<div class="t yl" style="top:324.5px">4.388</div>
<div class="t yl" style="top:374.5px">3.00<span class="o">1</span></div>
<div class="t yl" style="top:424.5px"><span class="o p">1</span>.6<span class="o">1</span>4</div>
<div class="t yl" style="top:474.5px">0.226</div>
<div class="t xl" style="left:80.5px">2022<span class="d">-</span>08</div>
<div class="t xl" style="left:228.5px">2023<span class="d">-</span>05</div>
<div class="t xl" style="left:376.5px">2024<span class="d">-</span>02</div>
<div class="t xl" style="left:524.5px">2024<span class="d">-</span><span class="o">1</span><span class="o">1</span></div>
<div class="t xl" style="left:672.5px">2025<span class="d">-</span>07</div>
<div class="t xl" style="left:680.5px">2025<span class="d">-</span>08</div>
</body>
</html>
